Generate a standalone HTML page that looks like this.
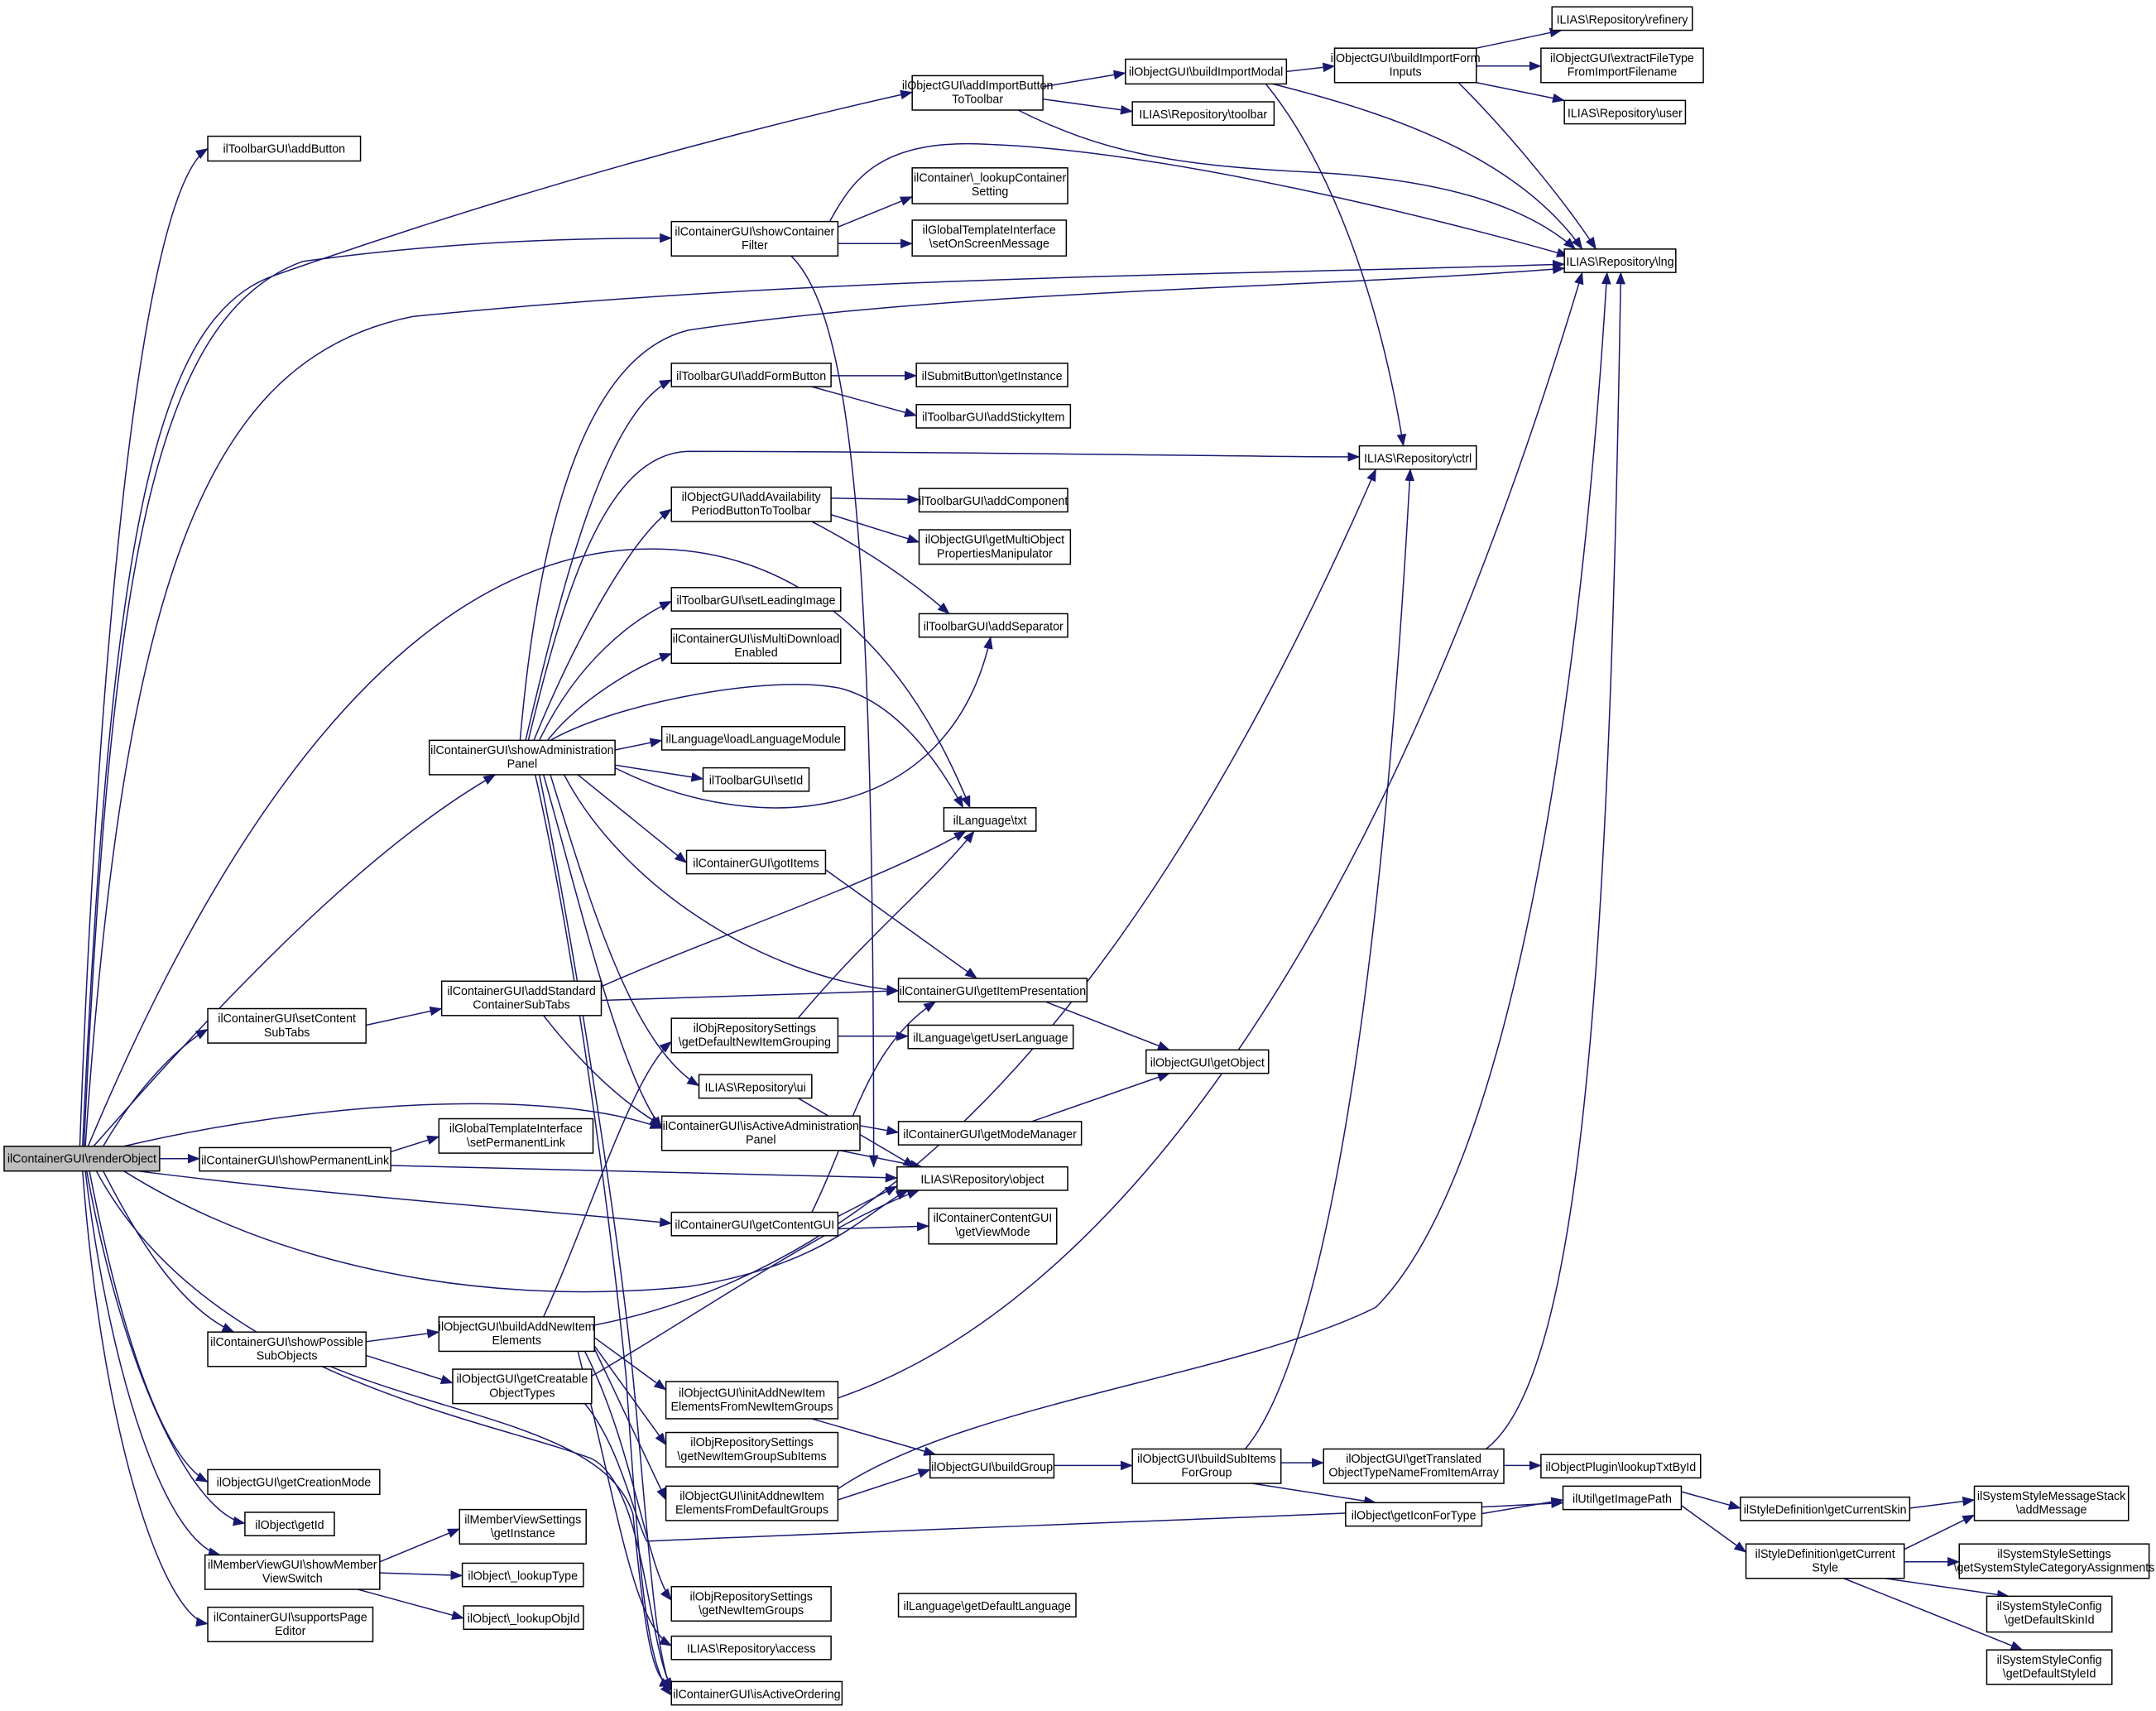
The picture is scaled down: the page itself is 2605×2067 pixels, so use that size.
<!DOCTYPE html>
<html><head><meta charset="utf-8"><style>
html,body{margin:0;padding:0;background:#fff;}
svg{display:block;}
text{font-family:"Liberation Sans",sans-serif;font-size:8.6px;fill:#000;text-anchor:middle;}
rect{fill:#fff;stroke:#000;stroke-width:0.9;}
path{fill:none;stroke:#191970;stroke-width:0.9;marker-end:url(#a);}
</style></head><body>
<svg width="2605" height="2067" viewBox="0 0 1567 1243.4" xmlns="http://www.w3.org/2000/svg">
<defs><marker id="a" markerWidth="9" markerHeight="7" refX="8.5" refY="3.5" orient="auto" markerUnits="userSpaceOnUse"><polygon points="0,0 9,3.5 0,7" fill="#191970"/></marker></defs>
<g id="edges">
<!-- renderObject -->
<path d="M58,833 C70,500 100,140 151,108"/>
<path d="M60,833 C80,400 110,230 200,200 C400,130 560,90 663,67"/>
<path d="M61,833 C80,420 110,230 220,190 C330,175 420,173 488,173"/>
<path d="M62,833 C90,420 150,260 300,230 C600,200 900,200 1137,192"/>
<path d="M64,833 C120,700 250,420 450,400 C560,390 650,450 705,587"/>
<path d="M68,833 C150,740 260,620 360,563"/>
<path d="M75,833 C100,790 130,760 151,748"/>
<path d="M90,833 C230,800 400,790 481,820"/>
<path d="M116,842 L145,842"/>
<path d="M100,851 C250,870 400,880 488,889"/>
<path d="M90,851 C200,920 350,950 500,935 C600,920 630,880 660,865"/>
<path d="M75,851 C100,900 130,950 170,968"/>
<path d="M70,851 C150,1000 350,1030 430,1060 C470,1080 470,1200 490,1230"/>
<path d="M65,851 C90,980 120,1060 151,1077"/>
<path d="M63,851 C90,1000 140,1100 178,1107"/>
<path d="M62,851 C80,1000 120,1120 160,1130"/>
<path d="M60,851 C75,1050 120,1175 151,1180"/>
<!-- col5/6/7 top -->
<path d="M758,63 L818,53"/>
<path d="M758,72 L823,81"/>
<path d="M740,80 C800,110 850,120 950,125 C1050,130 1110,150 1145,181"/>
<path d="M935,52 L970,48"/>
<path d="M920,61 C960,110 1000,200 1020,324"/>
<path d="M925,61 C1000,80 1100,110 1150,181"/>
<path d="M1073,35 L1135,22"/>
<path d="M1073,48 L1120,48"/>
<path d="M1073,60 L1137,73"/>
<path d="M1060,60 C1100,100 1140,150 1160,181"/>
<!-- showContainerFilter -->
<path d="M609,165 L663,143"/>
<path d="M609,177 L663,177"/>
<path d="M603,161 C620,130 640,100 720,105 C850,110 1050,160 1140,186"/>
<path d="M575,186 C620,230 635,400 635,848"/>
<!-- showAdministrationPanel -->
<path d="M378,538 C390,400 420,260 500,240 C700,210 950,210 1137,195"/>
<path d="M382,538 C410,420 440,300 488,276"/>
<path d="M384,538 C410,430 440,330 500,328 C700,328 900,332 988,332"/>
<path d="M388,538 C420,460 460,390 488,370"/>
<path d="M392,538 C420,480 460,450 488,437"/>
<path d="M398,538 C420,510 460,485 488,475"/>
<path d="M447,545 L481,538"/>
<path d="M447,556 L511,566"/>
<path d="M447,558 C550,610 690,600 720,463"/>
<path d="M400,538 C450,510 560,490 610,500 C650,510 680,550 700,587"/>
<path d="M420,563 L499,627"/>
<path d="M410,563 C450,640 550,710 653,720"/>
<path d="M400,563 C430,660 460,760 508,789"/>
<path d="M395,563 C420,650 450,780 481,820"/>
<path d="M392,563 C420,700 450,900 460,1000 C470,1100 475,1200 488,1228"/>
<path d="M389,563 C420,700 445,900 455,1000 C465,1150 470,1210 488,1232"/>
<path d="M604,273 L666,273"/>
<path d="M590,281 L666,302"/>
<path d="M604,362 L668,363"/>
<path d="M604,374 L668,394"/>
<path d="M590,379 C630,400 660,420 690,446"/>
<path d="M600,632 L710,711"/>
<path d="M437,717 C520,680 640,640 702,604"/>
<path d="M437,727 L653,720"/>
<path d="M395,738 C420,770 450,800 481,818"/>
<path d="M266,745 L321,733"/>
<path d="M580,740 C630,680 680,640 708,604"/>
<path d="M609,753 L660,753"/>
<path d="M760,728 L850,763"/>
<path d="M750,815 L850,780"/>
<path d="M580,798 L665,848"/>
<path d="M625,818 L653,823"/>
<path d="M610,836 L670,848"/>
<path d="M284,837 L319,826"/>
<path d="M284,847 L652,856"/>
<path d="M609,884 L652,862"/>
<path d="M609,893 L675,891"/>
<path d="M590,881 C620,820 630,760 680,728"/>
<!-- showPossibleSubObjects -->
<path d="M266,975 L319,968"/>
<path d="M266,985 L329,1005"/>
<path d="M240,993 C330,1030 440,1040 460,1100 C470,1200 475,1220 488,1226"/>
<path d="M395,957 C430,880 460,780 488,757"/>
<path d="M432,963 C600,930 800,800 1000,341"/>
<path d="M432,972 L484,1010"/>
<path d="M432,978 L484,1050"/>
<path d="M432,980 L484,1090"/>
<path d="M425,982 C460,1050 470,1140 488,1163"/>
<path d="M420,982 C450,1100 460,1180 488,1196"/>
<path d="M430,1000 C500,960 600,890 668,865"/>
<path d="M425,1020 C450,1050 460,1100 470,1120 C700,1110 1000,1100 1136,1092"/>
<path d="M590,1031 L680,1057"/>
<path d="M609,1016 C800,950 1000,700 1150,198"/>
<path d="M609,1090 L676,1068"/>
<path d="M609,1082 C700,1020 900,1000 1000,950 C1100,850 1150,500 1168,198"/>
<path d="M766,1065 L823,1065"/>
<path d="M931,1063 L962,1063"/>
<path d="M910,1078 L1000,1092"/>
<path d="M905,1053 C950,1000 1000,800 1025,341"/>
<path d="M1093,1065 L1120,1065"/>
<path d="M1080,1053 C1150,1000 1170,700 1178,198"/>
<path d="M1077,1100 L1136,1090"/>
<path d="M1222,1084 L1265,1096"/>
<path d="M1222,1094 L1269,1128"/>
<path d="M1388,1096 L1435,1090"/>
<path d="M1384,1126 L1435,1101"/>
<path d="M1384,1135 L1424,1135"/>
<path d="M1370,1147 L1460,1160"/>
<path d="M1340,1147 L1470,1199"/>
<path d="M276,1135 L334,1111"/>
<path d="M276,1143 L336,1145"/>
<path d="M260,1155 L337,1176"/>
</g>
<g id="nodes">
<rect x="3" y="833" width="113" height="18" style="fill:#bfbfbf"/><text x="59.5" y="845">ilContainerGUI\renderObject</text>
<rect x="151" y="99" width="111" height="18"/><text x="206.5" y="111">ilToolbarGUI\addButton</text>
<rect x="151" y="733" width="115" height="25"/><text x="208.5" y="743">ilContainerGUI\setContent</text><text x="208.5" y="753">SubTabs</text>
<rect x="145" y="834" width="139" height="17"/><text x="214.5" y="846">ilContainerGUI\showPermanentLink</text>
<rect x="151" y="968" width="115" height="25"/><text x="208.5" y="978">ilContainerGUI\showPossible</text><text x="208.5" y="988">SubObjects</text>
<rect x="151" y="1068" width="125" height="18"/><text x="213.5" y="1080">ilObjectGUI\getCreationMode</text>
<rect x="178" y="1099" width="65" height="17"/><text x="210.5" y="1111">ilObject\getId</text>
<rect x="149" y="1130" width="127" height="25"/><text x="212.5" y="1140">ilMemberViewGUI\showMember</text><text x="212.5" y="1150">ViewSwitch</text>
<rect x="151" y="1168" width="120" height="25"/><text x="211" y="1178">ilContainerGUI\supportsPage</text><text x="211" y="1188">Editor</text>
<rect x="312" y="538" width="135" height="25"/><text x="379.5" y="548">ilContainerGUI\showAdministration</text><text x="379.5" y="558">Panel</text>
<rect x="321" y="713" width="116" height="25"/><text x="379" y="723">ilContainerGUI\addStandard</text><text x="379" y="733">ContainerSubTabs</text>
<rect x="319" y="813" width="112" height="25"/><text x="375" y="823">ilGlobalTemplateInterface</text><text x="375" y="833">\setPermanentLink</text>
<rect x="319" y="957" width="113" height="25"/><text x="375.5" y="967">ilObjectGUI\buildAddNewItem</text><text x="375.5" y="977">Elements</text>
<rect x="329" y="995" width="101" height="25"/><text x="379.5" y="1005">ilObjectGUI\getCreatable</text><text x="379.5" y="1015">ObjectTypes</text>
<rect x="334" y="1097" width="92" height="25"/><text x="380" y="1107">ilMemberViewSettings</text><text x="380" y="1117">\getInstance</text>
<rect x="336" y="1136" width="88" height="17"/><text x="380" y="1148">ilObject\_lookupType</text>
<rect x="337" y="1167" width="87" height="17"/><text x="380.5" y="1179">ilObject\_lookupObjId</text>
<rect x="488" y="161" width="121" height="25"/><text x="548.5" y="171">ilContainerGUI\showContainer</text><text x="548.5" y="181">Filter</text>
<rect x="488" y="264" width="116" height="17"/><text x="546" y="276">ilToolbarGUI\addFormButton</text>
<rect x="488" y="354" width="116" height="25"/><text x="546" y="364">ilObjectGUI\addAvailability</text><text x="546" y="374">PeriodButtonToToolbar</text>
<rect x="488" y="427" width="123" height="17"/><text x="549.5" y="439">ilToolbarGUI\setLeadingImage</text>
<rect x="488" y="457" width="123" height="25"/><text x="549.5" y="467">ilContainerGUI\isMultiDownload</text><text x="549.5" y="477">Enabled</text>
<rect x="481" y="528" width="133" height="17"/><text x="547.5" y="540">ilLanguage\loadLanguageModule</text>
<rect x="511" y="558" width="77" height="17"/><text x="549.5" y="570">ilToolbarGUI\setId</text>
<rect x="499" y="618" width="101" height="17"/><text x="549.5" y="630">ilContainerGUI\gotItems</text>
<rect x="488" y="740" width="121" height="25"/><text x="548.5" y="750">ilObjRepositorySettings</text><text x="548.5" y="760">\getDefaultNewItemGrouping</text>
<rect x="508" y="781" width="82" height="17"/><text x="549" y="793">ILIAS\Repository\ui</text>
<rect x="481" y="811" width="144" height="25"/><text x="553" y="821">ilContainerGUI\isActiveAdministration</text><text x="553" y="831">Panel</text>
<rect x="488" y="881" width="121" height="17"/><text x="548.5" y="893">ilContainerGUI\getContentGUI</text>
<rect x="484" y="1004" width="125" height="27"/><text x="546.5" y="1015">ilObjectGUI\initAddNewItem</text><text x="546.5" y="1025">ElementsFromNewItemGroups</text>
<rect x="484" y="1041" width="125" height="25"/><text x="546.5" y="1051">ilObjRepositorySettings</text><text x="546.5" y="1061">\getNewItemGroupSubItems</text>
<rect x="484" y="1080" width="125" height="25"/><text x="546.5" y="1090">ilObjectGUI\initAddnewItem</text><text x="546.5" y="1100">ElementsFromDefaultGroups</text>
<rect x="488" y="1153" width="116" height="25"/><text x="546" y="1163">ilObjRepositorySettings</text><text x="546" y="1173">\getNewItemGroups</text>
<rect x="488" y="1189" width="116" height="17"/><text x="546" y="1201">ILIAS\Repository\access</text>
<rect x="488" y="1222" width="124" height="17"/><text x="550" y="1234">ilContainerGUI\isActiveOrdering</text>
<rect x="663" y="55" width="95" height="25"/><text x="710.5" y="65">ilObjectGUI\addImportButton</text><text x="710.5" y="75">ToToolbar</text>
<rect x="663" y="122" width="113" height="26"/><text x="719.5" y="132">ilContainer\_lookupContainer</text><text x="719.5" y="142">Setting</text>
<rect x="663" y="160" width="112" height="26"/><text x="719" y="170">ilGlobalTemplateInterface</text><text x="719" y="180">\setOnScreenMessage</text>
<rect x="666" y="264" width="110" height="17"/><text x="721" y="276">ilSubmitButton\getInstance</text>
<rect x="666" y="294" width="112" height="17"/><text x="722" y="306">ilToolbarGUI\addStickyItem</text>
<rect x="668" y="355" width="108" height="17"/><text x="722" y="367">ilToolbarGUI\addComponent</text>
<rect x="668" y="385" width="110" height="25"/><text x="723" y="395">ilObjectGUI\getMultiObject</text><text x="723" y="405">PropertiesManipulator</text>
<rect x="668" y="446" width="108" height="17"/><text x="722" y="458">ilToolbarGUI\addSeparator</text>
<rect x="686" y="587" width="67" height="17"/><text x="719.5" y="599">ilLanguage\txt</text>
<rect x="653" y="711" width="137" height="17"/><text x="721.5" y="723">ilContainerGUI\getItemPresentation</text>
<rect x="660" y="745" width="120" height="17"/><text x="720" y="757">ilLanguage\getUserLanguage</text>
<rect x="653" y="815" width="133" height="17"/><text x="719.5" y="827">ilContainerGUI\getModeManager</text>
<rect x="652" y="848" width="124" height="17"/><text x="714" y="860">ILIAS\Repository\object</text>
<rect x="675" y="878" width="93" height="26"/><text x="721.5" y="888">ilContainerContentGUI</text><text x="721.5" y="898">\getViewMode</text>
<rect x="676" y="1057" width="90" height="17"/><text x="721" y="1069">ilObjectGUI\buildGroup</text>
<rect x="653" y="1158" width="129" height="17"/><text x="717.5" y="1170">ilLanguage\getDefaultLanguage</text>
<rect x="818" y="43" width="117" height="18"/><text x="876.5" y="55">ilObjectGUI\buildImportModal</text>
<rect x="823" y="74" width="103" height="17"/><text x="874.5" y="86">ILIAS\Repository\toolbar</text>
<rect x="833" y="763" width="89" height="17"/><text x="877.5" y="775">ilObjectGUI\getObject</text>
<rect x="823" y="1053" width="108" height="25"/><text x="877" y="1063">ilObjectGUI\buildSubItems</text><text x="877" y="1073">ForGroup</text>
<rect x="970" y="35" width="103" height="25"/><text x="1021.5" y="45">ilObjectGUI\buildImportForm</text><text x="1021.5" y="55">Inputs</text>
<rect x="988" y="324" width="85" height="17"/><text x="1030.5" y="336">ILIAS\Repository\ctrl</text>
<rect x="962" y="1053" width="131" height="25"/><text x="1027.5" y="1063">ilObjectGUI\getTranslated</text><text x="1027.5" y="1073">ObjectTypeNameFromItemArray</text>
<rect x="978" y="1092" width="99" height="17"/><text x="1027.5" y="1104">ilObject\getIconForType</text>
<rect x="1128" y="5" width="102" height="17"/><text x="1179" y="17">ILIAS\Repository\refinery</text>
<rect x="1120" y="35" width="118" height="25"/><text x="1179" y="45">ilObjectGUI\extractFileType</text><text x="1179" y="55">FromImportFilename</text>
<rect x="1137" y="73" width="88" height="17"/><text x="1181" y="85">ILIAS\Repository\user</text>
<rect x="1137" y="181" width="81" height="17"/><text x="1177.5" y="193">ILIAS\Repository\lng</text>
<rect x="1120" y="1057" width="116" height="17"/><text x="1178" y="1069">ilObjectPlugin\lookupTxtById</text>
<rect x="1136" y="1080" width="86" height="17"/><text x="1179" y="1092">ilUtil\getImagePath</text>
<rect x="1265" y="1088" width="123" height="17"/><text x="1326.5" y="1100">ilStyleDefinition\getCurrentSkin</text>
<rect x="1269" y="1122" width="115" height="25"/><text x="1326.5" y="1132">ilStyleDefinition\getCurrent</text><text x="1326.5" y="1142">Style</text>
<rect x="1435" y="1080" width="112" height="25"/><text x="1491" y="1090">ilSystemStyleMessageStack</text><text x="1491" y="1100">\addMessage</text>
<rect x="1424" y="1122" width="138" height="25"/><text x="1493" y="1132">ilSystemStyleSettings</text><text x="1493" y="1142">\getSystemStyleCategoryAssignments</text>
<rect x="1444" y="1160" width="91" height="26"/><text x="1489.5" y="1170">ilSystemStyleConfig</text><text x="1489.5" y="1180">\getDefaultSkinId</text>
<rect x="1444" y="1199" width="91" height="25"/><text x="1489.5" y="1209">ilSystemStyleConfig</text><text x="1489.5" y="1219">\getDefaultStyleId</text>
</g>
</svg>
</body></html>
